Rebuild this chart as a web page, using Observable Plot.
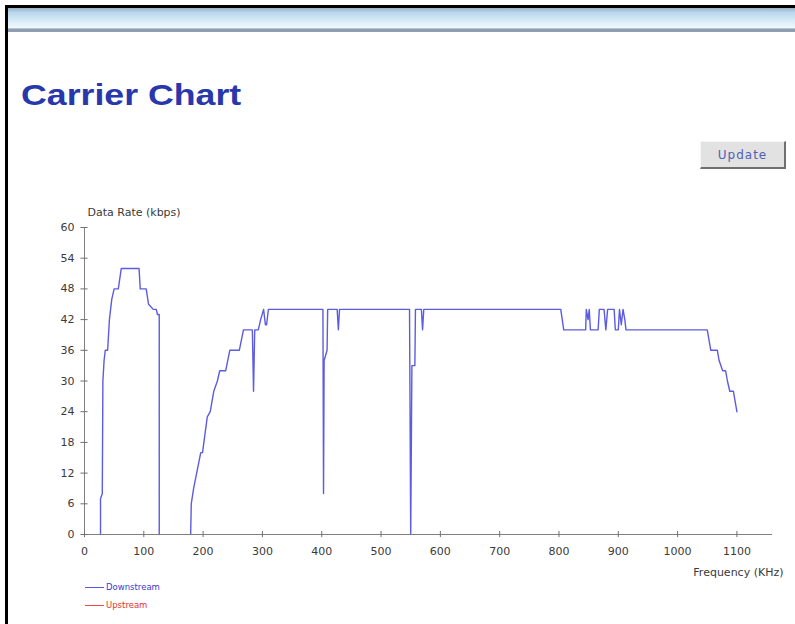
<!DOCTYPE html>
<html><head><meta charset="utf-8">
<script src="https://cdn.jsdelivr.net/npm/d3@7"></script>
<script src="https://cdn.jsdelivr.net/npm/@observablehq/plot@0.6"></script>
<style>
body{margin:0;background:#fff;width:795px;height:624px;overflow:hidden;position:relative;font-family:"Liberation Sans",Arial,sans-serif}
#frameL{position:absolute;left:5px;top:5px;width:3px;height:619px;background:#000}
#frameT{position:absolute;left:5px;top:5px;width:790px;height:3px;background:#000}
#band{position:absolute;left:8px;top:8px;width:787px;height:24px;background:linear-gradient(#98b2c8 0%,#b9d6ec 18%,#d9edf8 55%,#f0f8fc 82%,#8e9eb0 88%,#8e9eb0 100%)}
#title{position:absolute;left:21px;top:80px;font:bold 30px/30px "Liberation Sans",Arial,sans-serif;color:#2838ac;transform:scaleX(1.19);transform-origin:0 50%;white-space:nowrap}
#btn{position:absolute;left:700px;top:141px;width:86px;height:28px;box-sizing:border-box;background:#e2e2e2;border-top:1px solid #f6f6f6;border-left:1px solid #f6f6f6;border-right:2px solid #707070;border-bottom:2px solid #707070;display:flex;align-items:center;justify-content:center;font:12px "DejaVu Sans",sans-serif;letter-spacing:1px;color:#5060b4}
#chart{position:absolute;left:0;top:190px}
.leg{position:absolute;left:85px;font:8.5px "DejaVu Sans",sans-serif;display:flex;align-items:center;white-space:nowrap}
.leg span.l{display:inline-block;width:19px;height:1px;margin-right:2px}
</style></head>
<body>
<div id="frameL"></div><div id="frameT"></div><div id="band"></div>
<div id="title">Carrier Chart</div>
<div id="btn">Update</div>
<div id="chart"></div>
<div class="leg" style="top:582px;color:#3a3ad0"><span class="l" style="background:#5a5ae0"></span>Downstream</div>
<div class="leg" style="top:600px;color:#e83030"><span class="l" style="background:#f04848"></span>Upstream</div>
<script>
// Downstream carrier data rate (kbps) by frequency (KHz); null = gap between bands
const downFreq = [27,27,30,31,33,35,39,42,46,50,57,62,92,94,104,108,116,121,123,126,126,
  150,
  179,180,184,196,199,207,212,218,224,228,238,245,261,268,283,285,287,293,297,302,305,307,310,
  402,403,404,409,410,426,428,430,548,550,552,557,558,568,570,572,803,808,
  845,846,849,851,853,866,868,876,879,882,893,895,900,902,905,908,911,913,
  1050,1056,1067,1070,1076,1081,1084,1088,1094,1100];
const downRate = [0,7,8,30,34,36,36,42,46,48,48,52,52,48,48,45,44,44,43,43,0,
  null,
  0,6,9,16,16,23,24,28,30,32,32,36,36,40,40,28,40,40,42,44,41,41,44,
  44,8,34,36,44,44,40,44,44,0,33,33,44,44,40,44,44,40,
  40,44,42,44,40,40,44,44,40,44,44,40,40,44,41,44,42,40,
  40,36,36,34,32,32,30,28,28,24];
const upFreq = [];
const upRate = [];
const xTicks = [0,100,200,300,400,500,600,700,800,900,1000,1100];
const yTicks = [0,6,12,18,24,30,36,42,48,54,60];
const yLabel = "Data Rate (kbps)";
const xLabel = "Frequency (KHz)";

const down = downFreq.map((f,i)=>({f, r: downRate[i]}));
const up = upFreq.map((f,i)=>({f, r: upRate[i]}));

const plot = Plot.plot({
  width:795, height:400,
  marginLeft:84, marginRight:23, marginTop:37, marginBottom:56,
  style:{fontFamily:"DejaVu Sans, sans-serif", fontSize:"11px", color:"#333", background:"transparent"},
  x:{domain:[0,1160]},
  y:{domain:[0,60]},
  marks:[
    Plot.line(down,{x:"f", y:"r", stroke:"#5c5ce2", strokeWidth:1.4}),
    Plot.line(up,{x:"f", y:"r", stroke:"#f04848", strokeWidth:1.4}),
    Plot.ruleY([0],{stroke:"#808080"}),
    Plot.ruleX([0],{stroke:"#808080"}),
    Plot.ruleX(xTicks,{x:d=>d, y1:-0.6, y2:0.6, stroke:"#707070"}),
    Plot.ruleY(yTicks,{y:d=>d, x1:-6, x2:6, stroke:"#707070"}),
    Plot.axisX({ticks:xTicks, tickSize:0, tickPadding:13, label:null, tickFormat:d=>String(d), fill:"#3a3a3a"}),
    Plot.axisY({ticks:yTicks, tickSize:0, tickPadding:10, label:null, tickFormat:d=>String(d), fill:"#3a3a3a"}),
    Plot.text([yLabel],{text:d=>d, frameAnchor:"top-left", dx:3, dy:-19, textAnchor:"start", fill:"#3a3a3a"}),
    Plot.text([xLabel],{text:d=>d, frameAnchor:"bottom-right", dx:11, dy:41, textAnchor:"end", fill:"#3a3a3a"})
  ]
});
document.getElementById("chart").appendChild(plot);
</script>
</body></html>
